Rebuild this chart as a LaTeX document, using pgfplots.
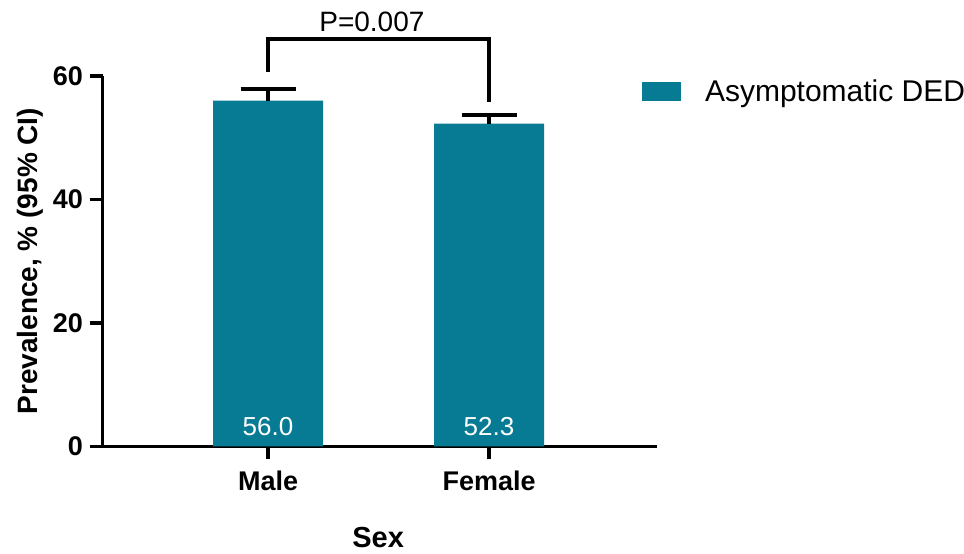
\documentclass[border=0pt]{standalone}
\usepackage{fontspec}
\setmainfont{Liberation Sans}
\usepackage{pgfplots}
\pgfplotsset{compat=1.18}
\definecolor{ded}{RGB}{8,123,148}
\begin{document}
\begin{tikzpicture}
\begin{axis}[
  scale only axis,
  width=554.5pt, height=370.5pt,
  xmin=-0.749, xmax=1.76,
  ymin=0, ymax=60,
  axis x line=bottom, axis y line=left,
  axis line style={-, line width=3.3pt},
  xtick={0,1}, xticklabels={Male,Female},
  ytick={0,20,40,60},
  tick style={line width=3.3pt, black},
  major tick length=13pt,
  tick align=outside,
  /pgf/number format/assume math mode=true,
  ticklabel style={font=\fontsize{27}{30}\selectfont\bfseries},
  xticklabel style={yshift=-8pt},
  yticklabel style={xshift=-3pt},
  xlabel={Sex},
  ylabel={Prevalence, \% (95\% CI)},
  xlabel style={font=\fontsize{29}{32}\selectfont\bfseries, at={(axis description cs:0.497,-0.247)}, anchor=center},
  ylabel style={font=\fontsize{28}{32}\selectfont\bfseries, at={(axis description cs:-0.131,0.5)}, anchor=center, rotate=0},
  clip=false,
  legend style={draw=none, fill=none, at={(axis description cs:0.973,0.9946)}, anchor=north west,
    font=\fontsize{30}{33}\selectfont, inner sep=0pt, outer sep=0pt,
    /tikz/every even column/.style={column sep=0pt}},
  legend cell align=left,
]
\addplot[ybar, bar width=110pt, fill=ded, draw=none,
  error bars/.cd, y dir=plus, y explicit,
  error bar style={line width=3.3pt, black},
  error mark options={rotate=90, mark size=27.5pt, line width=3.3pt, black},
  /pgfplots/legend image code/.code={\fill[ded] (0pt,-9.5pt) rectangle (39pt,9.5pt);}
] coordinates {(0,56.0) +- (0,1.9) (1,52.3) +- (0,1.4)};
\addlegendentry{\hspace{22pt}Asymptomatic DED}
\draw[line width=3.3pt] (axis cs:0,60.6) -- (axis cs:0,66.0) -- (axis cs:1,66.0) -- (axis cs:1,55.8);
\node[font=\fontsize{28}{31}\selectfont] at (axis cs:0.47,68.8) {P=0.007};
\node[font=\fontsize{26}{29}\selectfont, text=white] at (axis cs:0,3.2) {56.0};
\node[font=\fontsize{26}{29}\selectfont, text=white] at (axis cs:1,3.2) {52.3};
\coordinate (bl) at (axis description cs:-0.1849,-0.290);
\coordinate (tr) at (axis description cs:1.5537,1.2051);
\end{axis}
\pgfresetboundingbox
\useasboundingbox (bl) rectangle (tr);
\end{tikzpicture}
\end{document}
